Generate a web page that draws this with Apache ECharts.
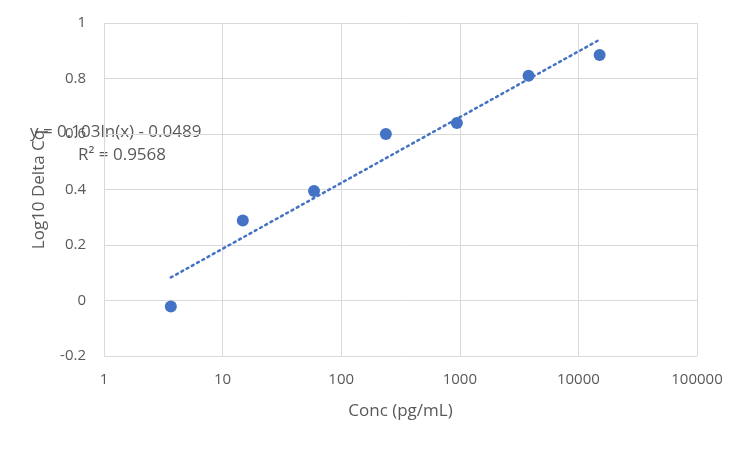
<!DOCTYPE html>
<html>
<head>
<meta charset="utf-8">
<script src="https://cdn.jsdelivr.net/npm/echarts@6/dist/echarts.min.js"></script>
<style>
  html, body { margin: 0; padding: 0; background: #fff; }
  #chart { width: 750px; height: 450px; }
</style>
</head>
<body>
<div id="chart"></div>
<script>
// measured points (conc, log10 delta Cq)
var concValues = [3.66, 14.8, 59, 238, 945, 3800, 15100];
var logDeltaCq = [-0.022, 0.288, 0.395, 0.600, 0.640, 0.810, 0.885];

// trendline ends (log fit is straight on a log axis)
var trendX = [3.66, 15100];
var trendY = [0.083, 0.940];

var trendLabel = ['y = 0.103ln(x) - 0.0489', 'R² = 0.9568'];

var textColor = '#595959';
var gridColor = '#D9D9D9';
var pointColor = '#4472C4';
var fontName = 'Open Sans, Liberation Sans, sans-serif';

var chart = echarts.init(document.getElementById('chart'));

chart.setOption({
    animation: false,
    textStyle: { fontFamily: fontName },
    grid: { left: 104, right: 53, top: 23, bottom: 94 },
    xAxis: {
        type: 'log',
        logBase: 10,
        min: 1,
        max: 100000,
        name: 'Conc (pg/mL)',
        nameLocation: 'middle',
        nameGap: 47,
        nameTextStyle: { color: textColor, fontSize: 17 },
        axisLine: { show: false },
        axisTick: { show: false },
        axisLabel: {
            color: textColor, fontSize: 15, margin: 16,
            formatter: function (v) { return String(Math.round(v)); }
        },
        splitLine: { show: true, lineStyle: { color: gridColor, width: 1 } },
        minorSplitLine: { show: false }
    },
    yAxis: {
        type: 'value',
        min: -0.2,
        max: 1,
        interval: 0.2,
        name: 'Log10 Delta Cq',
        nameLocation: 'middle',
        nameGap: 56,
        nameTextStyle: { color: textColor, fontSize: 17 },
        axisLine: { show: false },
        axisTick: { show: false },
        axisLabel: {
            color: textColor, fontSize: 15, margin: 18,
            formatter: function (v) { return String(Math.round(v * 10) / 10); }
        },
        splitLine: { show: true, lineStyle: { color: gridColor, width: 1 } }
    },
    series: [
        {
            type: 'line',
            data: trendX.map(function (x, i) { return [x, trendY[i]]; }),
            showSymbol: false,
            lineStyle: { color: pointColor, width: 2.5, type: [2, 4], cap: 'round' },
            silent: true,
            z: 2
        },
        {
            type: 'scatter',
            data: concValues.map(function (x, i) { return [x, logDeltaCq[i]]; }),
            symbolSize: 12,
            itemStyle: { color: pointColor, opacity: 1 },
            z: 3
        }
    ],
    graphic: [
        {
            type: 'text', left: 30, top: 124,
            style: { text: trendLabel[0], fill: textColor, fontSize: 17, fontFamily: fontName }
        },
        {
            type: 'text', left: 78, top: 147,
            style: { text: trendLabel[1], fill: textColor, fontSize: 17, fontFamily: fontName }
        }
    ]
});
</script>
</body>
</html>
